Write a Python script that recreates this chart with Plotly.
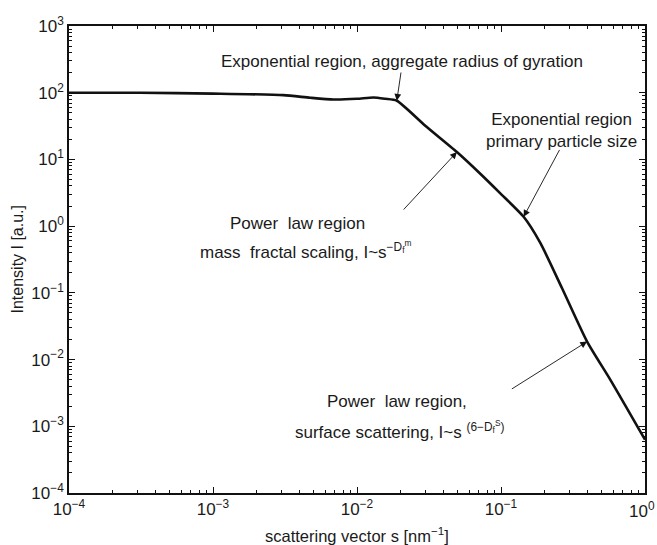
import plotly.graph_objects as go
import math

# Data (scattering vector s [nm^-1], intensity I [a.u.])
s_values = [1e-4, 3.1e-4, 1e-3, 3.08e-3, 4.73e-3, 6.87e-3, 1e-2, 1.30e-2, 1.57e-2,
            1.89e-2, 2.98e-2, 4.94e-2, 7.18e-2, 9.89e-2, 0.1436, 0.1875, 0.2655,
            0.396, 0.575, 1.0]
I_values = [100, 100, 97, 92, 84, 79, 81, 84.8, 81,
            75.9, 32, 12.9, 6.1, 3.1, 1.38, 0.56, 0.117,
            0.0186, 0.00497, 6.3e-4]

x_tick_vals = [1e-4, 1e-3, 1e-2, 1e-1, 1e0]
x_tick_text = ["10<sup>−4</sup>", "10<sup>−3</sup>", "10<sup>−2</sup>", "10<sup>−1</sup>", "10<sup>0</sup>"]
y_tick_vals = [1e-4, 1e-3, 1e-2, 1e-1, 1e0, 1e1, 1e2, 1e3]
y_tick_text = ["10<sup>−4</sup>", "10<sup>−3</sup>", "10<sup>−2</sup>", "10<sup>−1</sup>",
               "10<sup>0</sup>", "10<sup>1</sup>", "10<sup>2</sup>", "10<sup>3</sup>"]

minor_x = [m * 10 ** k for k in range(-4, 0) for m in range(2, 10)]
minor_y = [m * 10 ** k for k in range(-4, 3) for m in range(2, 10)]

FONT = "Liberation Sans, Arial, Helvetica, sans-serif"
TXT = "#1a1a1a"

fig = go.Figure()
fig.add_trace(go.Scatter(x=s_values, y=I_values, mode="lines",
                         line=dict(color="#111111", width=2.6, shape="spline", smoothing=0.6),
                         showlegend=False, hoverinfo="skip"))

axis_common = dict(type="log", showline=True, linecolor="#111111", linewidth=1.6,
                   mirror="allticks", ticks="inside", ticklen=6, tickwidth=1,
                   tickcolor="#111111", showgrid=False, zeroline=False, automargin=False,
                   tickfont=dict(family=FONT, size=17, color=TXT))

# last x tick label drawn separately so it stays inside the page, like the reference
x_tick_text_axis = x_tick_text[:-1] + [""]

fig.update_xaxes(range=[-4, 0], tickvals=x_tick_vals, ticktext=x_tick_text_axis,
                 minor=dict(tickvals=minor_x, ticks="inside", ticklen=3, tickcolor="#111111", showgrid=False),
                 **axis_common)
fig.update_yaxes(range=[-4, 3], tickvals=y_tick_vals, ticktext=y_tick_text,
                 minor=dict(tickvals=minor_y, ticks="inside", ticklen=3, tickcolor="#111111", showgrid=False),
                 **axis_common)

def L(v):
    return math.log10(v)

ann_font = dict(family=FONT, size=17, color=TXT)
arrow_style = dict(showarrow=True, arrowhead=2, arrowsize=1.5, arrowwidth=0.9,
                   arrowcolor="#111111", axref="x", ayref="y", xref="x", yref="y", text="")

# arrows (tips on the curve, tails near the labels)
arrows = [
    (9, -1.693, 2.326),
    (11, -1.686, 0.226),
    (14, -0.588, 1.165),
    (17, -0.935, -2.454),
]
annotations = []
for idx, tx, ty in arrows:
    annotations.append(dict(x=L(s_values[idx]), y=L(I_values[idx]), ax=tx, ay=ty, **arrow_style))

texts = [
    ("Exponential region, aggregate radius of gyration", -1.686, 2.472, "center"),
    ("Exponential region<br>primary particle size", -0.581, 1.437, "center"),
    ("Power  law region", -2.416, 0.047, "center"),
    ("mass  fractal scaling, I~s<sup>−D<sub>f</sub><sup>m</sup></sup>", -3.104, -0.357, "left"),
    ("Power  law region,", -1.721, -2.633, "center"),
    ("surface scattering, I~s <sup>(6−D<sub>f</sub><sup>S</sup>)</sup>", -2.443, -3.052, "left"),
]
for t, x, y, anc in texts:
    annotations.append(dict(x=x, y=y, xref="x", yref="y", text=t, showarrow=False,
                            xanchor=anc, yanchor="middle", font=ann_font))

# right-most x tick label (10^0), kept inside the page edge
annotations.append(dict(x=L(x_tick_vals[-1]), y=0, xref="x", yref="paper", text=x_tick_text[-1],
                        showarrow=False, xanchor="right", yanchor="top", xshift=12, yshift=-4,
                        font=dict(family=FONT, size=17, color=TXT)))

# axis titles
annotations.append(dict(x=0.5, y=0, xref="paper", yref="paper", text="scattering vector s [nm<sup>−1</sup>]",
                        showarrow=False, xanchor="center", yanchor="middle", yshift=-42,
                        font=dict(family=FONT, size=16.5, color=TXT)))
annotations.append(dict(x=0, y=0.5, xref="paper", yref="paper", text="Intensity I [a.u.]",
                        showarrow=False, xanchor="center", yanchor="middle", xshift=-52, textangle=-90,
                        font=dict(family=FONT, size=16, color=TXT)))

fig.update_layout(width=657, height=545, margin=dict(l=69, r=12, t=26, b=52),
                  paper_bgcolor="white", plot_bgcolor="white",
                  annotations=annotations)

fig.write_html("out.html", config={"displayModeBar": False},
               post_script="document.body.style.margin='0px';")
